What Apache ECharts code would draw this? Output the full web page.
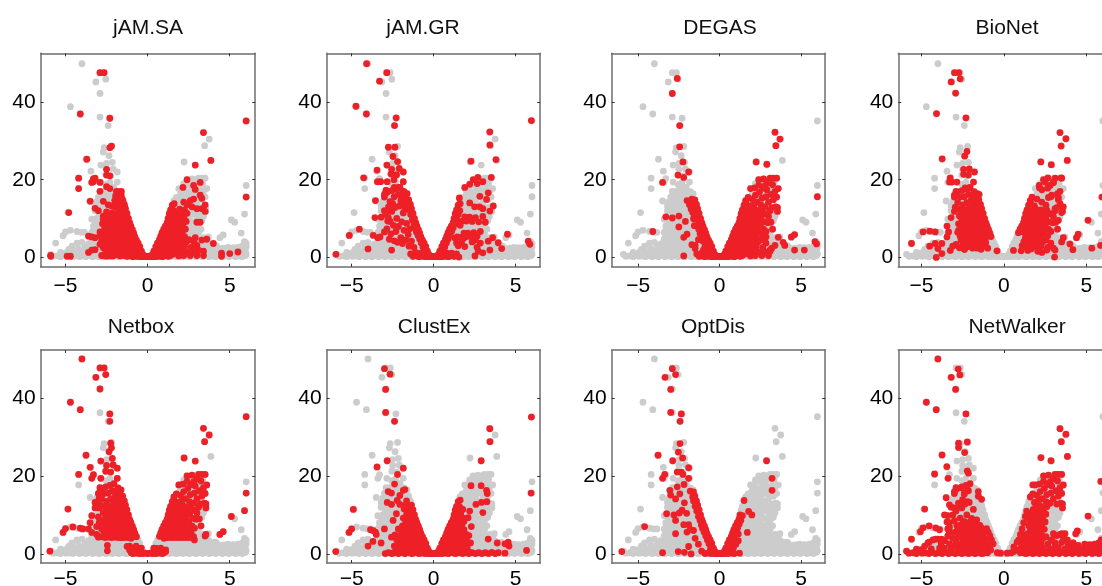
<!DOCTYPE html>
<html><head><meta charset="utf-8">
<style>html,body{margin:0;padding:0;background:#fff;overflow:hidden}#c{width:1102px;height:586px}</style>
<script src="https://cdn.jsdelivr.net/npm/echarts@6/dist/echarts.min.js"></script></head>
<body><div id="c"></div>
<script>
const xTicks=[-5,0,5], yTicks=[0,20,40];
const panelNames=['jAM.SA','jAM.GR','DEGAS','BioNet','Netbox','ClustEx','OptDis','NetWalker'];
const GREY='#cccccc', RED='#ee2027';

// read-off points shared by the panels (log2 fold change, -log10 p)
const spikes=[[-4,50],[-2.9,47.7],[-2.65,47.7],[-3.15,45.3],[-2.55,46],[-2.9,42.3],[-4.7,38.9],[-4.1,37],[-2.9,36.2],[-2.3,35.9],[-2.4,34],[-2.2,28.6],[-2.65,28.3],[-2.7,27.2],[-2.35,26.2],[-2.15,24.5],[-3.75,25.3],[-2.85,23.8],[-2.5,22.7],[-2.1,22.8],[-1.85,22],[-3.45,22.2],[-2.55,21.2],[-2.25,21],[-4.2,20.4],[-3.3,20.3],[-3.4,19.4],[-2.85,19.4],[-1.85,19.4],[-4.2,17.7],[-3.5,14.5],[-4.85,11.5],[-2.4,18],[-2.15,18]];
const spikesR=[[6,35.2],[3.4,32.2],[3.75,30.5],[3.47,28.8],[3.85,25],[2.22,24.6],[2.9,23.8],[6,18.5],[6,15.6],[5.9,11.1],[5.1,9.6],[5.3,9],[5.7,6.2],[4.4,5],[4.6,5.7],[5.9,4],[6,3.5]];
const edgeL=[[-0.1,0.1],[-0.2,0.2],[-0.3,0.7],[-0.38,1.5],[-0.3,0.2],[-0.48,2.7],[-0.45,0.6],[-0.55,1.4],[-0.58,3.6],[-0.65,2.6],[-0.68,4.4],[-0.78,5.3],[-0.75,3.6],[-0.85,6.2],[-0.85,4.6],[-0.93,7.1],[-0.95,5.6],[-1.02,8],[-1.05,6.5],[-1.09,8.8],[-1.12,7.4],[-1.17,10],[-1.2,8.6],[-1.26,11.3],[-1.3,9.6],[-1.35,12.5],[-1.4,11],[-1.42,13.6],[-1.5,12.2],[-1.52,14.8],[-1.6,13.6],[-1.62,16.4],[-1.7,15],[-1.8,16.9],[-1.85,13.5],[-1.95,15.8],[-2,14.6],[-1.75,12.4],[-0.8,1.5],[-0.7,0.9],[-0.9,2.6],[-0.85,0.6],[-1,4],[-1,1.8],[-1.1,5],[-1.2,6],[-1.28,7.2],[-1.4,8.2],[-1.55,10.4],[-1.65,11.5]];
const edgeR=[[0.1,0.1],[0.2,0.2],[0.3,0.7],[0.38,1.5],[0.3,0.2],[0.5,2.7],[0.45,0.6],[0.55,1.4],[0.6,3.6],[0.68,2.6],[0.72,4.5],[0.8,5.4],[0.78,3.6],[0.88,6.3],[0.88,4.6],[0.98,7.2],[1,5.6],[1.08,8],[1.1,6.6],[1.19,8.9],[1.2,7.6],[1.25,10],[1.3,8.6],[1.32,11.2],[1.4,9.8],[1.4,12.2],[1.5,11],[1.5,13.4],[1.6,12],[1.62,13.8],[0.8,1.5],[0.7,0.9],[0.9,2.6],[0.85,0.6],[1,4],[1,1.8],[1.18,5],[1.3,6],[1.35,7.2],[1.45,8.2],[1.6,11]];
const bottomV=[[0,0.1],[-0.15,0.2],[0.15,0.2],[-0.3,0.1],[0.3,0.1],[-0.5,0.1],[0.5,0.1],[-0.7,0.2],[0.7,0.2],[-0.9,0.1],[0.9,0.1],[-0.6,0.6],[0.6,0.6],[-0.8,1],[0.8,1],[-1,0.3],[1,0.3],[-1.1,1],[1.1,1],[-1.25,0.2],[1.25,0.2],[-1.4,0.8],[1.4,0.8]];
const lowL=[[-2.9,3.3],[-2.8,0.4],[-2.7,2.4],[-2.6,4.4],[-2.55,1.2],[-2.5,3],[-2.45,0.3],[-2.4,2],[-2.35,4.9],[-2.3,0.8],[-2.25,3.6],[-2.2,1.7],[-2.15,2.7],[-2.1,0.3],[-2.05,4.4],[-2,1.3],[-1.95,3.4],[-1.9,2.3],[-1.88,0.6],[-1.82,4.8],[-1.78,1.6],[-1.72,3.1],[-1.68,0.3],[-1.62,2.3],[-1.6,4.2],[-1.55,1],[-1.5,3.2],[-1.45,0.4],[-1.42,4.9],[-1.38,2],[-1.32,3.9],[-1.28,1],[-1.22,2.9],[-1.2,0.3],[-1.12,1.9],[-1.1,3.7],[-1.05,0.8],[-0.98,2.3],[-0.95,1.2]];
const midL=[[-2.8,6.4],[-2.75,8.6],[-2.7,10.6],[-2.65,5.4],[-2.6,7.4],[-2.55,9.6],[-2.5,11.7],[-2.45,6.3],[-2.4,8.3],[-2.35,10.4],[-2.3,5.3],[-2.25,7.3],[-2.2,9.3],[-2.15,11.4],[-2.1,6.2],[-2.05,8.2],[-2,10.3],[-1.95,5.2],[-1.9,7.2],[-1.85,9.2],[-1.8,11.5],[-1.75,6.2],[-1.7,8.2],[-1.65,10.1],[-1.6,5.2],[-1.55,7.2],[-1.5,9],[-1.45,6.1],[-1.4,5.1],[-1.35,6.6],[-1.25,5.2]];
const highL=[[-3,15.5],[-2.95,12.9],[-2.85,16.7],[-2.8,14.1],[-2.7,12.3],[-2.65,15.5],[-2.55,17.2],[-2.5,13.5],[-2.4,15.6],[-2.35,12.2],[-2.3,17.6],[-2.25,14.1],[-2.15,16.2],[-2.1,12.7],[-2.05,18],[-1.95,14.3],[-2.9,17],[-1.85,15.2]];
const scatterL=[[-2.9,11],[-2.85,7.3],[-2.7,4.6],[-2.65,9.2],[-2.6,6],[-2.55,11.8],[-2.45,8.2],[-2.4,4.2],[-2.35,12.8],[-2.3,6.6],[-2.25,10],[-2.2,3.8],[-2.15,7.9],[-2.1,13.2],[-2,5],[-1.95,9.1],[-1.9,3.5],[-1.85,11.4],[-1.8,6.9],[-1.7,4.4],[-1.65,8.7],[-1.55,5.8],[-1.5,2.8],[-1.45,7.3],[-1.35,4.1],[-1.2,2.5],[-1.1,1.2],[-2.5,13.9],[-2.75,13]];
const lowR=[[1.05,1.6],[1.1,2.9],[1.15,0.4],[1.2,3.9],[1.25,1.3],[1.3,2.6],[1.3,4.9],[1.4,0.4],[1.4,3.6],[1.45,1.7],[1.5,2.9],[1.55,4.6],[1.6,0.8],[1.65,2.1],[1.7,3.6],[1.8,1.1],[1.8,4.7],[1.9,0.3],[1.9,2.7],[2,3.8],[2.05,1.5],[2.15,4.7],[2.2,0.4],[2.25,2.8],[2.35,3.9],[2.4,1.4],[2.55,4.4],[2.6,0.4],[2.65,2.5],[2.8,1.3],[2.85,3.6],[3,0.4],[3.1,1.8]];
const midR=[[1.45,5.2],[1.5,7.2],[1.52,9],[1.6,6.1],[1.62,8.2],[1.65,10.3],[1.7,5.1],[1.72,7.3],[1.75,9.3],[1.78,11.4],[1.85,6.2],[1.85,8.3],[1.9,10.4],[1.95,12.4],[1.95,5.2],[2,7.3],[2,9.3],[2.05,11.3],[2.1,6.2],[2.15,8.3],[2.2,10.3],[2.25,12.2],[2.25,5.3],[2.3,7.2],[2.35,9.2],[2.4,11.3],[2.45,6.3],[2.5,8.2],[2.55,10.2],[2.6,12.1],[2.65,5.4],[2.7,7.2],[2.75,9.1],[2.8,11.2],[2.85,6.6],[2.95,8.9],[3,10.5],[3.1,12],[3.15,9],[3.25,7.2]];
const highR=[[1.6,14.6],[1.75,15.4],[1.85,13.2],[1.9,17.7],[2,15],[2.1,13.6],[2.15,17.9],[2.2,16],[2.3,14.2],[2.4,18.6],[2.4,20],[2.45,16.8],[2.55,13.4],[2.6,15.2],[2.65,17.8],[2.7,20.2],[2.8,18.5],[2.8,13],[2.85,15.6],[2.9,17.4],[3,19.2],[3,14.2],[3.1,20.4],[3.15,16.2],[3.2,12.8],[3.25,18.7],[3.3,14.8],[3.3,20.4],[3.4,17],[3.45,13],[3.5,20.4],[3.5,15.5],[3.55,11.8],[3.6,17.7],[3.55,12.8]];
const baseRow=[[-5.9,0.7],[-5.75,0.2],[-5.5,0.3],[-5.3,0.1],[-5.1,0.5],[-4.95,0.2],[-4.75,0.3],[-4.55,0.1],[-4.35,0.4],[-4.15,0.1],[-3.95,0.3],[-3.75,0.1],[-3.55,0.4],[-3.35,0.1],[-3.15,0.3],[-2.95,0.1],[-2.75,0.3],[-2.55,0.1],[-2.35,0.3],[-2.15,0.1],[-1.95,0.3],[-1.75,0.1],[-1.55,0.3],[-1.35,0.1],[1.35,0.1],[1.55,0.3],[1.75,0.1],[1.95,0.3],[2.15,0.1],[2.35,0.3],[2.55,0.1],[2.75,0.3],[2.95,0.1],[3.15,0.3],[3.35,0.1],[3.55,0.4],[3.75,0.1],[3.95,0.3],[4.15,0.1],[4.35,0.4],[4.55,0.1],[4.75,0.3],[4.95,0.1],[5.15,0.4],[5.35,0.1],[5.55,0.3],[5.75,0.1],[5.95,0.4]];
const wingL=[[-5.6,3.6],[-5.15,5.5],[-5,6.5],[-4.7,6.9],[-4.3,6.6],[-4.05,6.4],[-3.85,6.4],[-4.8,2],[-4.6,2.8],[-4.4,1.3],[-4.3,3.6],[-4,3.8],[-3.8,2.7],[-3.9,1.5],[-3.6,3.4],[-3.6,1.5],[-3.4,4.6],[-3.3,2.6],[-3.2,1.2],[-3.1,4],[-3,5.5],[-3,2.1],[-2.8,1.4],[-3.4,6.4],[-3.3,8],[-3.4,9.8],[-3,8.5],[-3.1,10],[-5.3,1.2],[-5,1.1],[-3.3,5.5],[-2.9,3.8],[-3.2,12],[-3.3,6.9]];
const wingR=[[3.7,5.2],[3.4,5],[3.2,4.7],[3,5.2],[2.9,3.5],[3.1,2.8],[3.3,1.6],[3.5,2.9],[3.7,1.3],[3.9,2.4],[4,1.2],[4.2,2.8],[4.3,1.2],[4.5,2.2],[4.7,1.2],[4.9,2.5],[5,1.1],[5.2,2.4],[5.3,1.3],[5.5,2.5],[5.6,1.2],[5.8,2.2],[5.85,3],[5.95,1.5],[6,2.6],[5.75,2.8],[6,0.8]];
// grey-only points that fill the mass behind the red ones
const massL=[[-3.7,0.9],[-3.6,2.4],[-3.45,3.5],[-3.45,1.1],[-3.25,3.6],[-3.15,4.9],[-3.05,1.1],[-3.1,3],[-2.95,6.6],[-2.95,4.6],[-2.85,5.2],[-2.9,7.6],[-2.85,9.5],[-3.2,7.4],[-3.15,9],[-2.95,10.8],[-3.05,12.2],[-3.2,13.2],[-3.1,14.3],[-2.9,11.5],[-2.8,12.8],[-2.6,11],[-2.45,12.7],[-2.6,13.4],[-2.75,15.6],[-2.95,14.2],[-2.55,14.6],[-2.4,14.4],[-2.2,15.2],[-2.2,12.4],[-2,12.2],[-2.45,16.8],[-2.65,17],[-2.2,17.3],[-1.95,16.8],[-2.8,3.2],[-2.7,1.4],[-2.75,4.7],[-2.55,3.6],[-2.45,5.6],[-2.15,5.3],[-1.95,11.6],[-2.6,8.6],[-2.9,1.4],[-2.3,11.5],[-1.6,7],[-1.3,4.5],[-1.6,10.8],[-2.55,18.8],[-2.3,19.3],[-2.5,24.2]];
const massR=[[2.6,6.4],[2.9,7.6],[3,6.2],[3.1,7.8],[3.3,9.4],[3.25,11],[3.4,10.5],[3.4,12],[3.05,11.3],[2.85,12.3],[2.65,13.6],[2.5,14.5],[2.3,15.5],[2.1,17],[2,16.3],[1.85,15],[1.7,14],[2.5,16],[2.75,16.7],[3,15.4],[3.2,17.3],[3.35,19],[2.9,20],[2.6,19],[2.2,19],[2,13],[2.4,13],[2.75,3.2],[2.45,5.8],[2.05,4.4],[2.55,3.3],[3.2,3.6],[3.45,3.6],[3.75,3.3],[4.1,3],[3.1,6.3],[2.75,5.2],[3.6,4.3],[1.9,5.7],[2.25,6.4]];
const band=[[-4.6,1.6],[-4.2,2.2],[-4,1.2],[-3.7,2.2],[-3.5,2.8],[-3.35,1.8],[-3.1,1.9],[-2.95,2.9],[-2.7,3.4],[-2.5,2],[-2.3,2.9],[-2.1,1.5],[-2.1,3.4],[-1.85,1.4],[-1.85,3.3],[-1.6,1.5],[-1.55,3.4],[-1.35,2.9],[-1.2,1.6],[1.2,2],[1.35,1.4],[1.35,3.2],[1.55,2.2],[1.6,3.3],[1.8,1.9],[1.85,3.2],[2.05,1],[2.1,2.6],[2.3,2],[2.3,3.3],[2.5,1.2],[2.5,2.6],[2.7,2],[2.7,3.4],[2.95,1.5],[2.95,2.7],[3.15,1],[3.3,2.9],[3.3,3.5],[3.55,2],[3.8,1.4],[4.05,2.1],[4.3,2.2],[4.5,1.2],[4.65,2.3],[4.85,1.3],[5.05,2.2],[5.4,1.8],[5.7,1.5],[5.9,2.8]];

// points read per panel
const redJamSa=[[-2.9,47.7],[-2.65,47.7],[-4.1,37],[-2.3,35.9],[-2.2,28.7],[-2.3,28.3],[-3.7,25.3],[-2.5,22.7],[-4.2,20.4],[-4.2,17.7],[-3.3,20.2],[-3.2,20.4],[-3.4,19.3],[-3.3,19.5],[-2.9,19.3],[-2.5,21.2],[-2.3,21],[-2.5,18.2],[-2.3,17.7],[-2.9,17],[-1.9,17],[-1.6,17],[-1.6,15.7],[-3.5,14.4],[-3.2,12.6],[-3,12],[-4.8,11.5],[-2.7,14.4],[-2.4,13.5],[-2.2,13.2],[-2,13],[-1.5,14.5],[-1.4,13],[-2.7,9.8],[-2.6,7.5],[-2.9,6.5],[-3.6,5.4],[-3.4,5.2],[-3.2,5],[-2.9,5.5],[-2.8,4.2],[-3.6,1.2],[-3.4,1.8],[-3.2,1.9],[-5.9,0.4],[-5.9,0.2],[-4.9,0.2],[-4.7,0.2],[-2.7,0.3],[-2.5,0.3],[-2.3,0.3],[6,35.2],[3.4,32.2],[3.85,25],[2.9,23.8],[2.4,20],[2.15,18],[3.2,19.3],[2.8,18.5],[2.9,17.5],[3.2,16],[3.3,15.2],[2.8,15],[2.6,14.6],[2.2,14.2],[2.4,13.5],[2.7,13],[3,12.5],[3.3,12.5],[3.5,11.8],[3.5,13.5],[6,15.5],[3.3,4.4],[3.6,4.6],[4,3.5],[2.9,5],[2.2,5],[2.5,4.5],[3,3],[2.8,1.3],[3,1.5],[3.4,1.5],[3.4,0.4],[4.5,1],[4.5,0.2],[5,0.9],[5.5,1.3],[3,9],[3.2,9]];
const redJamGr=[[-4.09,50],[-4.74,39],[-4.1,37],[-3.3,45.5],[-2.85,47.7],[-2.28,36],[-2.38,34],[-2.76,28.4],[-2.36,28.4],[-2.48,26],[-2.2,24.7],[-3.45,22.5],[-2.85,23.8],[-4.27,20.5],[-2.56,22.7],[-2.1,22.9],[-1.85,22],[-2.6,21.5],[-2.26,21.3],[-2.42,20],[-3.43,19.5],[-3.23,19.5],[-2.83,19.5],[-1.85,19.5],[-2.4,18],[-2.15,18],[-2.9,17.3],[-3,16.2],[-1.85,17],[-3.55,14.6],[-2.66,14.3],[-3,12],[-3.58,10.2],[-3.2,10.3],[-2.76,10.2],[-2.8,9.3],[-3.27,5.2],[-3.68,5.6],[-4.53,7.2],[-5.14,5.6],[-5.96,0.7],[-4,2.1],[-2.56,1.8],[-3.4,5],[-3,6.5],[5.96,35.3],[3.43,32.4],[3.43,29],[3.8,25.2],[2.28,24.8],[2.7,20.6],[3.52,20.6],[2.2,18.8],[1.9,18],[2.66,19],[3,19.5],[2.42,20],[1.57,15.3],[3.33,16.6],[2.82,15.7],[3.23,14.9],[3.64,13.2],[3.43,11.9],[4.5,5.9],[3.33,4.1],[3.6,5],[3.94,3.7],[4.15,2.2],[3.43,1.8],[5.77,4.1],[5.87,3.3],[2.52,0.3],[2.72,1.5],[3,1.1],[1.54,0],[1.2,0.3],[2.2,14],[2.5,13],[2.8,13],[3,12.5]];
const redDegas=[[-2.6,46.2],[-2.9,42.3],[-2.45,34],[-2.45,28.5],[-2.25,24.6],[-2.55,21.2],[-2.2,20.6],[-1.9,22],[-3.5,19.3],[-3.3,10.4],[-2.9,10.1],[-2.5,10.6],[-2.5,7.8],[-4.1,6.6],[-2.2,5.1],[-2,5.9],[-2.1,9.2],[-2.2,0.3],[-1.7,14.4],[-1.65,12.2],[-1.4,12],[-1.6,9.9],[-1.55,8.1],[-1.2,7.1],[-1.3,4.5],[-1.7,3.2],[-1.5,2.2],[-1.5,3],[-1.1,0.3],[-0.9,0.3],[3.4,32.3],[3.7,30.5],[3.45,28.8],[2.25,24.6],[2.9,24],[2.85,5.2],[3.6,5.1],[4.4,5.2],[4.6,5.8],[3.9,3.8],[4,3],[3.4,3],[3.2,2.3],[3.1,1.5],[4.6,1.8],[5.2,1.8],[5.85,4],[5.95,3.4],[6,15.6]];
const redBioNet=[[-3,47.7],[-2.73,47.7],[-3.2,45.3],[-2.65,46.1],[-2.93,42.4],[-4.08,37.1],[-2.3,36],[-2.24,27.3],[-2.38,26.1],[-3.74,25.4],[-2.44,22.7],[-2.1,22.8],[-1.78,22],[-2.44,21.4],[-2.15,21.2],[-3.25,20.5],[-3.3,19.4],[-3.15,19.4],[-2.85,19.4],[-1.84,19.4],[-2.35,17.9],[-2.1,17.9],[-3,16],[-1.8,16.4],[-1.5,16.2],[-5.6,3.5],[-4.9,6.5],[-4.5,6.7],[-4.16,6.5],[-4.5,2.8],[-4.16,3.5],[-3.76,3.5],[-4,2.2],[-3.76,0.9],[-4.1,-0.1],[-3.45,8],[-3.35,6.5],[-3.45,5.2],[-3.2,10.2],[-3,11.8],[-3.25,1.7],[-3.1,2.8],[-2.75,6.9],[-2.38,2],[-0.42,1.6],[0.58,1.7],[3.4,32.2],[3.76,30.6],[3.47,28.7],[3.84,25],[2.24,24.6],[2.87,23.9],[3.47,20.5],[2.67,20.5],[2.5,19.4],[3,19.4],[2.14,18.5],[2.3,17.4],[3.25,16.4],[2.9,16],[1.7,15.5],[2.7,15.4],[3.3,15.4],[1.6,13.8],[3.4,13.8],[3.6,13],[3.3,9.5],[3.1,12.5],[3.5,11.5],[5.1,9.5],[5.94,15.5],[5.33,2.3],[5.86,3],[4.5,5.9],[4.4,5],[4,3.4],[4.18,1.9],[3.6,5],[3.5,3.9],[3.07,0],[2.6,1.8],[3,2.3],[2.3,1.2]];
const redNetbox=[[-4,50],[-2.9,47.7],[-2.65,47.7],[-3.15,45.3],[-2.55,46],[-2.9,42.3],[-4.7,38.9],[-4.1,37],[-2.3,35.9],[-2.3,34],[-2.25,28.4],[-2.2,27.2],[-2.35,26.2],[-2.15,24.5],[-3.75,25.3],[-2.85,23.8],[-2.5,22.7],[-2.1,22.8],[-1.85,22],[-3.5,22.2],[-2.55,21.2],[-2.25,21],[-4.2,20.4],[-3.3,20.3],[-3.4,19.4],[-2.85,19.4],[-1.85,19.4],[-4.85,11.5],[-5.15,5.5],[-5,6.5],[-4.55,6.9],[-4.1,6.6],[-3.95,6.4],[-3.6,6.4],[-3.4,5.5],[-3.5,8],[-3.4,9.8],[-3.2,11.8],[-2.95,11.8],[-2.95,8],[-3.1,5],[-5.95,0.7],[-2.45,2.2],[-2.45,0.8],[-1.1,2],[-1.25,1.9],[-0.7,2],[6,35.2],[3.4,32.2],[3.75,30.5],[3.47,28.8],[2.22,24.6],[2.9,23.8],[6,15.6],[5.9,11.1],[5.1,9.6],[4.4,5],[4.6,5.7],[3.55,5],[3.5,4.6],[2.85,3.6],[0.9,0.4],[1.1,0.6],[-3,4.3],[-2.8,4.4],[-2.6,4.2],[-2.4,4.3],[-2.2,4.2],[-2,4.3],[-1.8,4.2],[-1.6,4.2],[-1.4,4.2],[-1.2,4.2],[-1,4.2],[1,4.2],[1.2,4.2],[1.4,4.2],[1.6,4.2],[1.8,4.2],[2,4.2],[2.2,4.2],[2.4,4.2],[2.6,4.2],[2.8,4.4],[-3.1,7],[-3,9.5],[-2.95,14.3],[-3.2,13.2],[-0.38,1.5],[-0.55,1.4],[0.38,1.5],[0.55,1.4],[-0.8,1.5],[0.8,1.5]];
const redClustEx=[[-3,47.5],[-2.66,46.1],[-2.93,42.2],[-2.93,36.3],[-2.38,34],[-2.83,23.9],[-3.45,22.3],[-1.85,22],[-2.2,20.4],[-2.38,17.9],[-1.85,16.3],[-1.75,16.5],[-2.77,16],[-2.57,15.6],[-2.06,15],[-2.22,13.7],[-2.83,13.2],[-2.57,12.7],[-2.06,12.7],[-1.65,13.6],[-4.9,11.4],[-5,6.4],[-5.16,5.5],[-5.97,0.6],[-3.85,6.2],[-3.7,6],[-3.55,5.6],[-3.5,5],[-3.7,3.2],[-4,2],[-3.2,2.8],[-3,6.4],[-2.57,4.3],[-2.47,8.6],[-2.27,10.3],[-2.15,6.4],[-1.95,6],[5.96,35.1],[3.43,32.1],[3.43,28.8],[2.9,23.9],[2.28,17.5],[2.9,17.5],[3.23,16.3],[3.27,15.5],[2.58,12.7],[2.92,13.2],[3.25,13.4],[3,10.6],[2.2,11],[2.1,9.3],[5.67,0.9],[5.94,15.6],[3.33,3.8],[3.88,2.8],[4.35,0.2],[4.55,3],[4.6,2],[4.35,2.6],[2.3,7],[1.8,6],[2,5]];
const redOptDis=[[-2.9,47.5],[-3.35,45.3],[-2.7,46],[-3,42.2],[-3,36.3],[-2.35,35.9],[-2.43,34],[-2.43,28.3],[-2.53,26.1],[-3.78,25.3],[-2.88,23.9],[-2.27,24.6],[-1.9,22.1],[-2.6,21],[-2.35,21],[-2.25,20.4],[-1.9,19.4],[-3.37,20.4],[-3.5,19.4],[-2.6,17.2],[-2.18,17.8],[-3.05,16.3],[-3,15.1],[-2.7,14.1],[-2.44,15.4],[-1.8,16.1],[-1.6,15.9],[-2.16,13.1],[-1.65,14.6],[-1.45,12.9],[-2.3,11.2],[-2.47,10.5],[-2.02,10.4],[-2.8,10],[-3.25,10.3],[-2.7,8.6],[-2.7,5.2],[-4.6,7],[-6,0.6],[-3.5,0.3],[-2.54,0.6],[-2.16,0.4],[-1.75,0],[-1.9,1.9],[-2,5.6],[-1.8,6.3],[-2.2,7.5],[-1.1,0.7],[-1.6,6],[-1.9,7.5],[-1.5,4],[-1.3,2.5],[2.88,23.9],[3.22,19.4],[3.22,16.3],[1.5,13.7],[1.78,10.9],[1.98,10],[1.7,5.5],[1.22,0.2],[1.15,3.4],[1.15,5.1],[1,2.5],[0.85,1.5]];
const redNetWalker=[[-4,50],[-2.77,47.4],[-3.2,45.3],[-2.67,45.9],[-2.93,42.2],[-4.7,38.9],[-4.1,37],[-2.3,35.9],[-2.22,28.7],[-2.75,28.4],[-2.75,27.3],[-2.38,26],[-3.75,25.4],[-3.46,22.4],[-4.2,20.5],[-3.38,19.4],[-2.22,21.3],[-2.15,20.7],[-2.55,17],[-3,16],[-2.25,17.3],[-1.55,16],[-3.5,14.4],[-2.4,15.3],[-1.55,14.8],[-1.35,14],[-2.2,13.4],[-4.8,11.5],[-3.3,12.6],[-3,11.8],[-3.6,10],[-3.45,8.2],[-5.6,3.8],[-5.06,5.7],[-4.9,6.7],[-4.53,7.2],[-4.13,6.7],[-3.9,6.2],[-4.53,3],[-4.13,3.8],[-3.78,3.8],[3.4,32.1],[3.76,30.7],[3.48,28.8],[3.85,25],[2.25,24.7],[2.85,23.9],[1.75,17.7],[5.1,9.7],[5.87,18.6],[4.45,5.9],[4.35,5.2],[3.5,5.2],[3.85,3.6],[3.4,4.9],[4.1,2.4],[3.6,3.6],[5.9,3.6],[1.6,1.9],[0.8,3],[0.6,1.8],[0.45,0.3],[-0.4,0.3],[0.2,0.2],[-0.2,0.2],[-0.65,2.6],[-0.75,3.6],[-0.85,4.6],[-0.95,5.6],[-1.05,6.5],[0.9,3.6],[1,5],[1.1,6.4],[1.2,8],[1.3,9.6],[1.38,11]];

const above=(a,v)=>a.filter(p=>p[1]>=v);
const below=(a,v)=>a.filter(p=>p[1]<=v);
const alternate=a=>a.filter((p,i)=>i%2===0);
const greyAll=[].concat(baseRow,band,massL,massR,wingL,wingR,lowL,lowR,midL,midR,highL,highR,edgeL,edgeR,bottomV,spikes,spikesR);
const panelRed=[
 [].concat(bottomV,edgeL,edgeR,lowL,lowR,midL,midR.slice(0,26),redJamSa),
 [].concat(bottomV,edgeL.slice(0,38),edgeR.slice(0,30),scatterL,alternate(midR),above(alternate(lowR),2.5),alternate(highL),redJamGr),
 [].concat(bottomV,below(edgeL,15),edgeR,lowR,midR,highR,redDegas),
 [].concat(above(lowL,2),midL,above(edgeL,5),highL,above(lowR,1.5),midR,above(edgeR,6),alternate(highR),redBioNet),
 [].concat(above(lowL,4),midL,highL,above(edgeL,4),bottomV.slice(0,19),above(lowR,4),midR,highR,above(edgeR,4),redNetbox),
 [].concat(bottomV,below(edgeL,12.5),edgeR,lowL.slice(6),lowR.slice(0,24),midL.filter(p=>p[0]>-2),midR.filter(p=>p[0]<1.9),baseRow.slice(15,38),redClustEx),
 [].concat(edgeL.slice(0,31),below(edgeR.slice(0,30),10.7),bottomV.slice(0,12),redOptDis),
 [].concat(baseRow,wingL.slice(7),wingR,lowL,lowR,bottomV.slice(12),below(midL,8.5),scatterL,midR.slice(0,30),highR,alternate(highL),redNetWalker)
];
// frame geometry in pixels
const lefts=[40.7,326.7,611.7,898.3], widths=[214.5,213.5,213.5,214.5];
const xRanges=[[-6.51,6.55],[-6.52,6.5],[-6.62,6.48],[-6.4,6.6]];
const tops=[53.3,350], heights=[213.4,213];
const yRanges=[[-2.5,52.7],[-2.33,52.3]];
const titleX=[143,418,715,1002,136,429,708,1012], titleY=[15,314];

const grid=[],xAxis=[],yAxis=[],series=[],title=[];
const minus=v=>String(v).replace('-','\u2212');
panelNames.forEach((name,i)=>{
 const c=i%4,r=i<4?0:1;
 grid.push({left:lefts[c],top:tops[r],width:widths[c],height:heights[r],outerBoundsMode:'none',containLabel:false});
 title.push({text:name,left:titleX[i],top:titleY[r]-2,textAlign:'center',textStyle:{fontFamily:'Liberation Sans',fontSize:21,fontWeight:'normal',color:'#111'}});
 const line={show:true,onZero:false,lineStyle:{color:'#6e6e6e',width:1.5}};
 const mkx=(pos,lab)=>({type:'value',gridIndex:i,position:pos,min:xRanges[c][0],max:xRanges[c][1],splitLine:{show:false},axisLine:line,
   axisTick:{show:true,inside:true,length:3,customValues:xTicks,lineStyle:{color:'#333',width:1}},
   axisLabel:{show:lab,customValues:xTicks,margin:r?6:9,fontFamily:'Liberation Sans',fontSize:21,color:'#000',formatter:minus}});
 const mky=(pos,lab)=>({type:'value',gridIndex:i,position:pos,min:yRanges[r][0],max:yRanges[r][1],splitLine:{show:false},axisLine:line,
   axisTick:{show:true,inside:true,length:3,customValues:yTicks,lineStyle:{color:'#333',width:1}},
   axisLabel:{show:lab,customValues:yTicks,margin:5,fontFamily:'Liberation Sans',fontSize:21,color:'#000'}});
 xAxis.push(mkx('bottom',true),mkx('top',false));
 yAxis.push(mky('left',true),mky('right',false));
 series.push({type:'scatter',xAxisIndex:i*2,yAxisIndex:i*2,data:greyAll,symbolSize:6.8,itemStyle:{color:GREY,opacity:1},silent:true,animation:false,z:2,large:false,progressive:0});
 series.push({type:'scatter',xAxisIndex:i*2,yAxisIndex:i*2,data:panelRed[i],symbolSize:6.8,itemStyle:{color:RED,opacity:1},silent:true,animation:false,z:3,large:false,progressive:0});
});
echarts.init(document.getElementById('c'),null,{renderer:'canvas'}).setOption({animation:false,backgroundColor:'#fff',title,grid,xAxis,yAxis,series});
</script></body></html>
